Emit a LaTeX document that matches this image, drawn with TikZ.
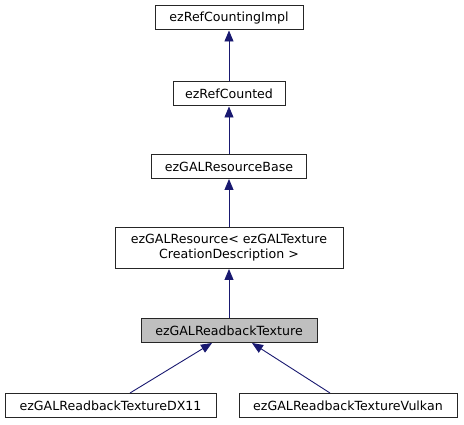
\documentclass[tikz,border=0pt]{standalone}
\usepackage{fontspec}
\setmainfont{DejaVu Sans}
\usetikzlibrary{arrows.meta}
\definecolor{edgeblue}{HTML}{191970}
\definecolor{hilite}{HTML}{BFBFBF}
\begin{document}
\begin{tikzpicture}[x=1pt,y=-1pt,line width=1pt,
  cls/.style={draw=black!85,fill=white,inner sep=0pt,minimum height=24pt,
    align=center,font=\fontsize{12.6}{15}\selectfont},
  inh/.style={draw=edgeblue,line width=0.9pt,
    -{Triangle[length=11pt,width=9pt,fill=edgeblue]}}]
  % bounding box
  \useasboundingbox (0,0) rectangle (464,425);
  % base classes, top to bottom
  \node[cls,minimum width=148pt] (impl) at (229,18) {ezRefCountingImpl};
  \node[cls,minimum width=112pt] (refc) at (229,94) {ezRefCounted};
  \node[cls,minimum width=155pt] (base) at (229,166.5) {ezGALResourceBase};
  \node[cls,minimum width=228pt,minimum height=41pt] (res) at (229,248)
    {ezGALResource< ezGALTexture\\CreationDescription >};
  % the class itself
  \node[cls,fill=hilite,minimum width=176pt] (rb) at (229,330.5) {ezGALReadbackTexture};
  % derived classes
  \node[cls,minimum width=211pt] (dx) at (110.5,405.5) {ezGALReadbackTextureDX11};
  \node[cls,minimum width=218pt] (vk) at (348,405.5) {ezGALReadbackTextureVulkan};
  % inheritance arrows
  \draw[inh] (refc.north) -- (impl.south);
  \draw[inh] (base.north) -- (refc.south);
  \draw[inh] (res.north) -- (base.south);
  \draw[inh] (rb.north) -- (res.south);
  \draw[inh] ([xshift=19.5pt]dx.north) -- ([xshift=-17pt]rb.south);
  \draw[inh] ([xshift=-18pt]vk.north) -- ([xshift=23pt]rb.south);
\end{tikzpicture}
\end{document}
